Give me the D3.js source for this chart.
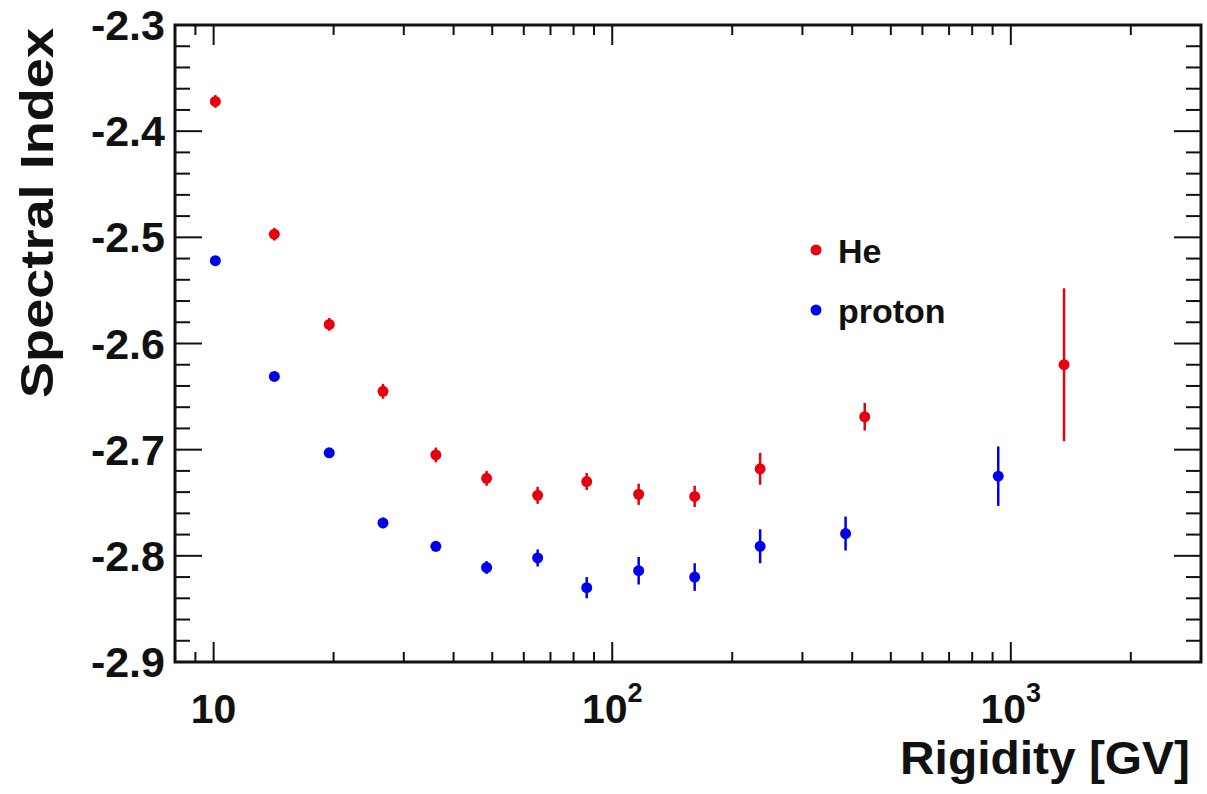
<!DOCTYPE html>
<html>
<head>
<meta charset="utf-8">
<script src="https://cdn.jsdelivr.net/npm/d3@7"></script>
<style>
  body { margin: 0; background: #fff; }
  svg text { font-family: "Liberation Sans", Arial, Helvetica, sans-serif; font-weight: bold; fill: #111; }
</style>
</head>
<body>
<svg id="chart" width="1207" height="794"></svg>
<script>
// ---- data ----
const heRigidity   = [10.1, 14.2, 19.5, 26.6, 36.1, 48.4, 65.0, 86.3, 116.5, 161, 235, 430, 1360];
const heIndex      = [-2.372, -2.497, -2.582, -2.645, -2.705, -2.727, -2.743, -2.730, -2.742, -2.744, -2.718, -2.669, -2.620];
const heError      = [0.006, 0.006, 0.006, 0.007, 0.007, 0.007, 0.008, 0.008, 0.010, 0.010, 0.015, 0.013, 0.072];

const pRigidity    = [10.1, 14.2, 19.5, 26.6, 36.1, 48.4, 65.0, 86.3, 116.5, 161, 235, 385, 930];
const pIndex       = [-2.522, -2.631, -2.703, -2.769, -2.791, -2.811, -2.802, -2.830, -2.814, -2.820, -2.791, -2.779, -2.725];
const pError       = [0.004, 0.004, 0.004, 0.005, 0.005, 0.006, 0.008, 0.010, 0.013, 0.013, 0.016, 0.016, 0.028];

const yTickValues  = [-2.3, -2.4, -2.5, -2.6, -2.7, -2.8, -2.9];
const xMajorTicks  = [10, 100, 1000];
const xTickLabels  = [["10", ""], ["10", "2"], ["10", "3"]];
const legendNames  = ["He", "proton"];

// ---- layout ----
const L = 175, R = 1201, T = 25, B = 662;
const colHe = "#e8000e", colP = "#0000ee";

const svg = d3.select("#chart");
const x = d3.scaleLog().domain([8, 3000]).range([L, R]);
const y = d3.scaleLinear().domain([-2.9, -2.3]).range([B, T]);

// minor x ticks
const xMinor = [];
for (let d = 1; d <= 1000; d *= 10) for (let k = 1; k <= 9; k++) {
  const v = k * d;
  if (v >= 8 && v <= 3000 && !xMajorTicks.includes(v)) xMinor.push(v);
}
// minor y ticks (every 0.02)
const yMinor = d3.range(0, 31).map(i => -2.9 + i * 0.02).filter(v => Math.abs(Math.round(v * 10) - v * 10) > 1e-6);

const tickG = svg.append("g").attr("stroke", "#111").attr("stroke-width", 2);
// x ticks bottom and top
xMinor.forEach(v => {
  tickG.append("line").attr("x1", x(v)).attr("x2", x(v)).attr("y1", B).attr("y2", B - 10);
  tickG.append("line").attr("x1", x(v)).attr("x2", x(v)).attr("y1", T).attr("y2", T + 10);
});
xMajorTicks.forEach(v => {
  tickG.append("line").attr("x1", x(v)).attr("x2", x(v)).attr("y1", B).attr("y2", B - 20);
  tickG.append("line").attr("x1", x(v)).attr("x2", x(v)).attr("y1", T).attr("y2", T + 20);
});
// y ticks left and right
yMinor.forEach(v => {
  tickG.append("line").attr("x1", L).attr("x2", L + 15).attr("y1", y(v)).attr("y2", y(v));
  tickG.append("line").attr("x1", R).attr("x2", R - 15).attr("y1", y(v)).attr("y2", y(v));
});
yTickValues.forEach(v => {
  tickG.append("line").attr("x1", L).attr("x2", L + 27).attr("y1", y(v)).attr("y2", y(v));
  tickG.append("line").attr("x1", R).attr("x2", R - 27).attr("y1", y(v)).attr("y2", y(v));
});

// frame
svg.append("rect").attr("x", L).attr("y", T).attr("width", R - L).attr("height", B - T)
  .attr("fill", "none").attr("stroke", "#111").attr("stroke-width", 3);

// y tick labels
svg.append("g").selectAll("text").data(yTickValues).join("text")
  .attr("x", L - 10).attr("y", d => y(d) + 15)
  .attr("text-anchor", "end").attr("font-size", 43)
  .text(d => d.toFixed(1));

// x tick labels
xMajorTicks.forEach((v, i) => {
  const t = svg.append("text").attr("x", x(v)).attr("y", 723)
    .attr("text-anchor", "middle").attr("font-size", 41);
  t.append("tspan").text(xTickLabels[i][0]);
  if (xTickLabels[i][1]) t.append("tspan").attr("dy", -21).attr("font-size", 27).text(xTickLabels[i][1]);
});

// axis titles
svg.append("text").attr("x", 1190).attr("y", 774).attr("text-anchor", "end")
  .attr("font-size", 46).attr("textLength", 290).attr("lengthAdjust", "spacingAndGlyphs")
  .text("Rigidity [GV]");
svg.append("text").attr("transform", "translate(53,28) rotate(-90)")
  .attr("text-anchor", "end").attr("font-size", 46)
  .attr("textLength", 370).attr("lengthAdjust", "spacingAndGlyphs")
  .text("Spectral Index");

// data series
function drawSeries(xs, ys, es, col) {
  const g = svg.append("g");
  g.selectAll("line").data(xs).join("line")
    .attr("x1", d => x(d)).attr("x2", d => x(d))
    .attr("y1", (d, i) => y(ys[i] - es[i])).attr("y2", (d, i) => y(ys[i] + es[i]))
    .attr("stroke", col).attr("stroke-width", 2.5);
  g.selectAll("circle").data(xs).join("circle")
    .attr("cx", d => x(d)).attr("cy", (d, i) => y(ys[i]))
    .attr("r", 5.5).attr("fill", col);
}
drawSeries(heRigidity, heIndex, heError, colHe);
drawSeries(pRigidity, pIndex, pError, colP);

// legend
const legCols = [colHe, colP];
legendNames.forEach((n, i) => {
  svg.append("circle").attr("cx", 816).attr("cy", 250 + i * 60).attr("r", 5.5).attr("fill", legCols[i]);
  svg.append("text").attr("x", 838).attr("y", 263 + i * 60).attr("font-size", 34).text(n);
});
</script>
</body>
</html>
